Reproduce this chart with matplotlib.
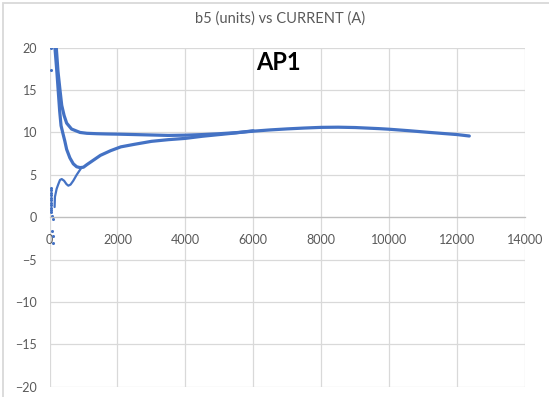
import matplotlib
matplotlib.use('Agg')
import matplotlib.pyplot as plt
from matplotlib.patches import Rectangle

plt.rcParams['font.family'] = ['Lato', 'DejaVu Sans']

# ── Data (CURRENT in A, b5 in units) ────────────────────────────────────────
# branch that comes down from the top and flattens out near 10
upper_x = [200, 250, 309, 360, 430, 505, 650, 900, 1100, 1400, 1700, 2000, 2500,
           3000, 3500, 4000, 4500, 5000, 5500, 6000, 6500, 7000, 7500, 8000,
           8500, 9000, 9700, 10000, 10600, 11200, 12000, 12360]
upper_y = [20.0, 17.2, 15.0, 13.2, 12.0, 11.1, 10.4, 10.0, 9.9, 9.85, 9.82, 9.8,
           9.75, 9.7, 9.65, 9.68, 9.75, 9.85, 9.98, 10.15, 10.3, 10.42, 10.52,
           10.6, 10.62, 10.58, 10.45, 10.38, 10.2, 10.0, 9.75, 9.58]

# branch that dips to ~6 and climbs back to join the upper one
lower_x = [160, 220, 300, 340, 400, 450, 505, 600, 700, 800, 900, 1000, 1100,
           1300, 1500, 1800, 2100, 2500, 3000, 3500, 4000, 4500, 5000, 5500, 6000]
lower_y = [20.0, 17.0, 12.5, 10.8, 9.8, 9.0, 8.0, 7.0, 6.3, 5.95, 5.85, 5.9, 6.2,
           6.75, 7.3, 7.85, 8.3, 8.6, 8.95, 9.15, 9.3, 9.55, 9.75, 9.95, 10.2]

# small hump at low current
hump_x = [150, 160, 210, 260, 310, 360, 430, 500, 555, 620, 700, 800, 900, 950]
hump_y = [1.2, 2.4, 3.35, 3.9, 4.4, 4.5, 4.3, 3.9, 3.72, 3.85, 4.3, 5.0, 5.6, 5.9]

# loose dots near zero current
dots_x = [44, 44, 44, 44, 44, 44, 44, 44, 44, 44, 44, 44, 44, 60, 90, 85, 95, 100]
dots_y = [20.0, 17.4, 3.5, 3.2, 2.9, 2.6, 2.3, 2.0, 1.7, 1.4, 1.1, 0.8, 0.6,
          0.2, -0.2, -1.6, -2.2, -3.0]

x_ticks = [0, 2000, 4000, 6000, 8000, 10000, 12000, 14000]
y_ticks = [-20, -15, -10, -5, 0, 5, 10, 15, 20]

BLUE = '#4472C4'
GRID = '#D9D9D9'
TEXT = '#595959'

# ── Figure ──────────────────────────────────────────────────────────────────
W, H = 549, 397
fig = plt.figure(figsize=(W / 100, H / 100), dpi=100)
fig.patch.set_facecolor('white')

# chart area border (left + top edges visible)
fig.add_artist(Rectangle((3 / W, -0.2), 1.2, 1.2 - 3 / H, transform=fig.transFigure,
                         fill=False, edgecolor=GRID, lw=1.3))

ax = fig.add_axes([49.5 / W, 1 - 386.7 / H, (525 - 49.5) / W, (386.7 - 47.7) / H])
ax.set_xlim(0, 14000)
ax.set_ylim(-20, 20)
ax.set_xticks(x_ticks)
ax.set_yticks(y_ticks)
ax.grid(True, color=GRID, lw=0.9)
ax.set_axisbelow(True)

for side in ['top', 'right', 'left']:
    ax.spines[side].set_visible(False)
ax.spines['bottom'].set_position(('data', 0))
ax.spines['bottom'].set_color('#BFBFBF')
ax.spines['bottom'].set_linewidth(0.9)

ax.tick_params(axis='x', length=0, labelsize=9, colors=TEXT, pad=12)
ax.tick_params(axis='y', length=0, labelsize=9, colors=TEXT, pad=9)

# ── Series ──────────────────────────────────────────────────────────────────
ax.plot(upper_x, upper_y, color=BLUE, lw=2.3, solid_capstyle='round')
ax.plot(lower_x, lower_y, color=BLUE, lw=2.3, solid_capstyle='round')
ax.plot(hump_x, hump_y, color=BLUE, lw=1.6, solid_capstyle='round')
ax.plot(dots_x, dots_y, ls='none', marker='o', ms=2.2, color=BLUE, mec='none')

fig.text(280 / W, 1 - 19 / H, 'b5 (units) vs CURRENT (A)', ha='center', va='center',
         fontsize=10.5, color=TEXT)
fig.text(278 / W, 1 - 63 / H, 'AP1', ha='center', va='center',
         fontsize=17, fontweight='bold', color='black')

fig.savefig('out.png', dpi=100, facecolor='white')
